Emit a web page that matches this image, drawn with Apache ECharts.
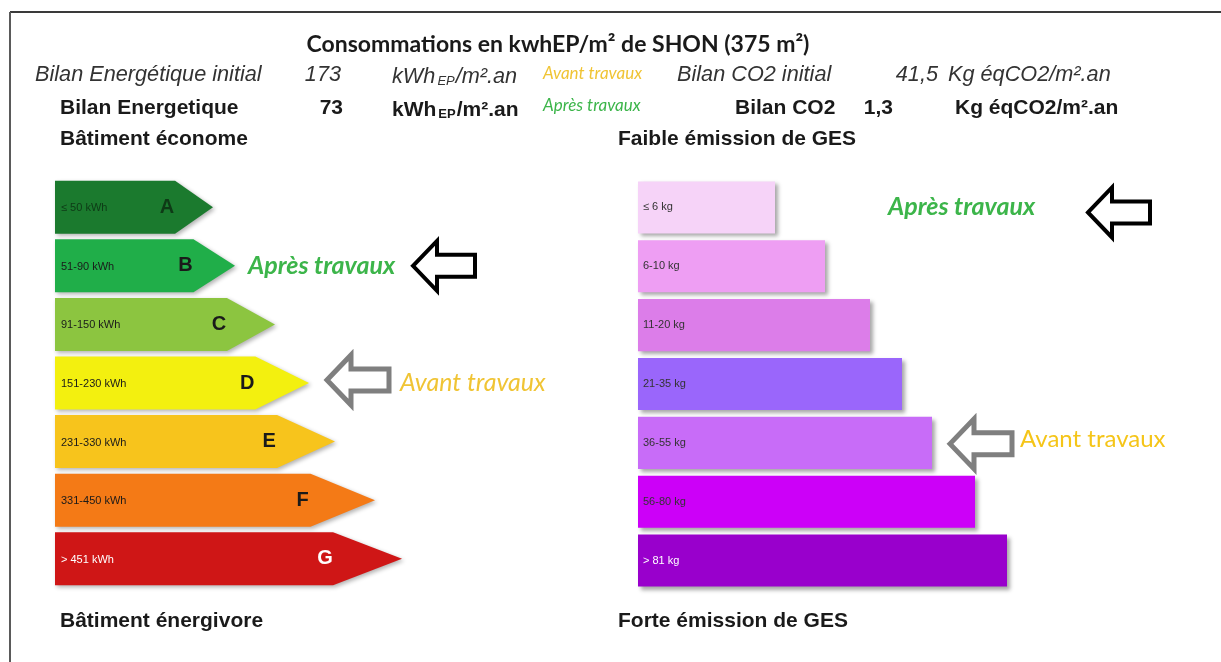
<!DOCTYPE html>
<html><head><meta charset="utf-8">
<script src="https://cdn.jsdelivr.net/npm/echarts@6/dist/echarts.min.js"></script>
<style>html,body{margin:0;padding:0;background:#fff}#c{width:1221px;height:662px}</style>
</head><body><div id="c"></div><script>
// ---------- DATA ----------
const energyClasses = ['A','B','C','D','E','F','G'];
const energyRanges = ['≤ 50 kWh','51-90 kWh','91-150 kWh','151-230 kWh','231-330 kWh','331-450 kWh','> 451 kWh'];
const energyBarLengths = [158,180,220,254,280,320,347];
const gesRanges = ['≤ 6 kg','6-10 kg','11-20 kg','21-35 kg','36-55 kg','56-80 kg','> 81 kg'];
const gesBarLengths = [137,187,232,264,294,337,369];
const energyInitial = '173', energyAfter = '73';
const co2Initial = '41,5', co2After = '1,3';
const energyBeforeClass = 'D', energyAfterClass = 'B';
const gesBeforeClass = '36-55 kg', gesAfterClass = '≤ 6 kg';

// ---------- STYLES ----------
const energyColors = ['#1b7a2e','#20ae49','#8cc540','#f3f00f','#f7c41c','#f47a16','#cf1616'];
const energyTextColors = ['#0e3a16','#1a1a1a','#1a1a1a','#1a1a1a','#1a1a1a','#1a1a1a','#ffffff'];
const gesColors = ['#f6d3f8','#ee9ef3','#dc7de9','#9a66fb','#c86cf8','#cc00f8','#9900cc'];
const gesTextColors = ['#333','#333','#333','#333','#333','#333','#ffffff'];
const ARIAL = '"Liberation Sans", Arial, sans-serif';
const CAL = 'Lato, "Open Sans", sans-serif';

const chart = echarts.init(document.getElementById('c'));

function arrowPts(x, cy){
  const L = 62, hl = 24, hh = 25, th = 11;
  return [[x,cy],[x+hl,cy-hh],[x+hl,cy-th],[x+L,cy-th],[x+L,cy+th],[x+hl,cy+th],[x+hl,cy+hh]];
}
function annotRender(layout){
  return function(params, api){
    const len = api.value(0), idx = api.value(1), kind = api.value(2);
    const end = api.coord([len, idx]);
    const L = layout[kind];
    const cy = end[1] + (L.dy || 0);
    return {type:'group', children:[
      {type:'polygon', shape:{points: arrowPts(end[0] + L.arrowDx, cy)},
       style:{fill:'#fff', stroke:L.arrow, lineWidth:L.lw, lineJoin:'miter'}},
      {type:'text', x:end[0] + L.textDx, y:end[1] + (L.tdy || 0),
       style:{text:L.text, fill:L.color, font:L.font, verticalAlign:'middle', align:'left'}}
    ]};
  };
}
const energyLayout = {
  1:{text:'Après travaux', textDx:13, arrowDx:178, color:'#3cb54a', font:'italic bold 25px ' + CAL, arrow:'#000', lw:4},
  0:{text:'Avant travaux', textDx:91, arrowDx:18, dy:-3, color:'#f0c434', font:'italic 25px ' + CAL, arrow:'#7f7f7f', lw:5}
};
const gesLayout = {
  1:{text:'Après travaux', textDx:113, arrowDx:313, dy:5, color:'#3cb54a', font:'italic bold 25px ' + CAL, arrow:'#000', lw:4},
  0:{text:'Avant travaux', textDx:88, arrowDx:18, dy:1, tdy:-4, color:'#f5c518', font:'24px ' + CAL, arrow:'#7f7f7f', lw:5}
};

const eAfter = energyClasses.indexOf(energyAfterClass), eBefore = energyClasses.indexOf(energyBeforeClass);
const gAfter = gesRanges.indexOf(gesAfterClass), gBefore = gesRanges.indexOf(gesBeforeClass);

function t(x, y, text, font, fill, extra){
  return Object.assign({type:'text', x:x, y:y, silent:true,
    style:Object.assign({text:text, font:font, fill:fill || '#1a1a1a', verticalAlign:'middle'}, extra || {})});
}
const rowI = 'italic 21.7px ' + ARIAL, rowB = 'bold 21px ' + ARIAL;
const unitRich = function(bold, italic){
  const base = (italic ? 'italic ' : '') + (bold ? 'bold ' : '');
  const size = italic ? 21.7 : 21;
  return {
    a:{font: base + size + 'px ' + ARIAL, fill: italic ? '#333' : '#1a1a1a', lineHeight:26, verticalAlign:'bottom'},
    s:{font: base + '13px ' + ARIAL, fill: italic ? '#333' : '#1a1a1a', lineHeight:26, verticalAlign:'bottom', padding:[0,1,0,2]}
  };
};

const option = {
  animation:false,
  backgroundColor:'#fff',
  grid:[
    {left:55, top:178, width:400, height:410},
    {left:638, top:178, width:400, height:412}
  ],
  xAxis:[
    {type:'value', gridIndex:0, min:0, max:400, show:false},
    {type:'value', gridIndex:1, min:0, max:400, show:false}
  ],
  yAxis:[
    {type:'category', gridIndex:0, data:energyClasses, inverse:true, show:false},
    {type:'category', gridIndex:1, data:gesRanges, inverse:true, show:false}
  ],
  series:[
    {type:'custom', xAxisIndex:0, yAxisIndex:0, encode:{x:0, y:1},
     data: energyBarLengths.map((v,i)=>[v,i]),
     renderItem:function(params, api){
       const len = api.value(0), idx = api.value(1);
       const p0 = api.coord([0, idx]), p1 = api.coord([len, idx]);
       const h = api.size([0,1])[1]*0.905;
       const cy = p0[1], y0 = cy - h/2, y1 = cy + h/2;
       const tipLen = 0.164*(p1[0]-p0[0]) + 12;
       const xr = p1[0] - tipLen;
       return {type:'group', children:[
         {type:'polygon', shape:{points:[[p0[0],y0],[xr,y0],[p1[0],cy],[xr,y1],[p0[0],y1]]},
          style:{fill:energyColors[idx], shadowBlur:4, shadowOffsetX:2, shadowOffsetY:2, shadowColor:'rgba(0,0,0,0.3)'}},
         {type:'text', x:p0[0]+6, y:cy+1, style:{text:energyRanges[idx], font:'11px ' + ARIAL, fill:energyTextColors[idx], verticalAlign:'middle'}},
         {type:'text', x:xr-8, y:cy, style:{text:energyClasses[idx], font:'bold 20px ' + ARIAL, fill:energyTextColors[idx], align:'center', verticalAlign:'middle'}}
       ]};
     }},
    {type:'custom', xAxisIndex:1, yAxisIndex:1, encode:{x:0, y:1},
     data: gesBarLengths.map((v,i)=>[v,i]),
     renderItem:function(params, api){
       const len = api.value(0), idx = api.value(1);
       const p0 = api.coord([0, idx]), p1 = api.coord([len, idx]);
       const h = api.size([0,1])[1]*0.885;
       const cy = p0[1];
       return {type:'group', children:[
         {type:'rect', shape:{x:p0[0], y:cy-h/2, width:p1[0]-p0[0], height:h},
          style:{fill:gesColors[idx], shadowBlur:4, shadowOffsetX:3, shadowOffsetY:3, shadowColor:'rgba(0,0,0,0.35)'}},
         {type:'text', x:p0[0]+5, y:cy, style:{text:gesRanges[idx], font:'11px ' + ARIAL, fill:gesTextColors[idx], verticalAlign:'middle'}}
       ]};
     }},
    {type:'custom', xAxisIndex:0, yAxisIndex:0, encode:{x:0, y:1}, z:5,
     data:[[energyBarLengths[eAfter], eAfter, 1],[energyBarLengths[eBefore], eBefore, 0]],
     renderItem: annotRender(energyLayout)},
    {type:'custom', xAxisIndex:1, yAxisIndex:1, encode:{x:0, y:1}, z:5,
     data:[[gesBarLengths[gAfter], gAfter, 1],[gesBarLengths[gBefore], gBefore, 0]],
     renderItem: annotRender(gesLayout)}
  ],
  graphic:[
    {type:'line', silent:true, shape:{x1:10, y1:12, x2:1221, y2:12}, style:{stroke:'#3a3a3a', lineWidth:2}},
    {type:'line', silent:true, shape:{x1:10, y1:12, x2:10, y2:662}, style:{stroke:'#5a5a5a', lineWidth:2}},
    t(558, 45, 'Consommations en kwhEP/m² de SHON (375 m²)', 'bold 23px ' + CAL, '#1a1a1a', {align:'center'}),
    t(35, 75, 'Bilan Energétique initial', rowI, '#333'),
    t(341, 75, energyInitial, rowI, '#333', {align:'right'}),
    {type:'text', x:392, y:75, silent:true, style:{text:'{a|kWh}{s|EP}{a|/m².an}', rich:unitRich(false,true), verticalAlign:'middle'}},
    t(543, 74, 'Avant travaux', 'italic 17px ' + CAL, '#f0c434'),
    t(677, 75, 'Bilan CO2 initial', rowI, '#333'),
    t(938, 75, co2Initial, rowI, '#333', {align:'right'}),
    t(948, 75, 'Kg éqCO2/m².an', rowI, '#333'),
    t(60, 108, 'Bilan Energetique', rowB),
    t(343, 108, energyAfter, rowB, '#1a1a1a', {align:'right'}),
    {type:'text', x:392, y:108, silent:true, style:{text:'{a|kWh}{s|EP}{a|/m².an}', rich:unitRich(true,false), verticalAlign:'middle'}},
    t(543, 106, 'Après travaux', 'italic 17px ' + CAL, '#3cb54a'),
    t(735, 108, 'Bilan CO2', rowB),
    t(893, 108, co2After, rowB, '#1a1a1a', {align:'right'}),
    t(955, 108, 'Kg éqCO2/m².an', rowB),
    t(60, 139, 'Bâtiment économe', rowB),
    t(618, 139, 'Faible émission de GES', rowB),
    t(60, 621, 'Bâtiment énergivore', rowB),
    t(618, 621, 'Forte émission de GES', rowB)
  ]
};
chart.setOption(option);
</script></body></html>
